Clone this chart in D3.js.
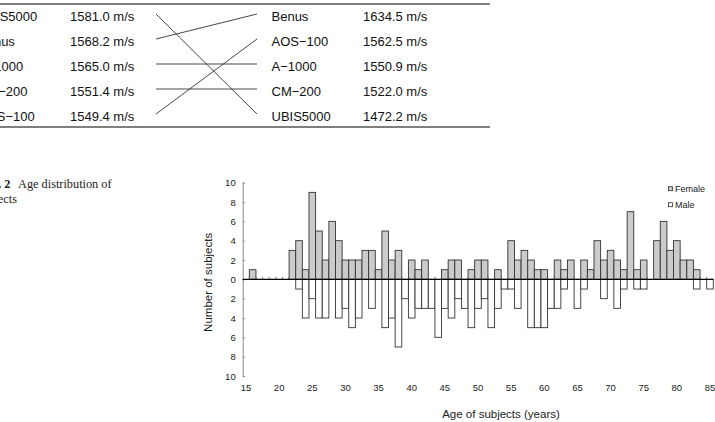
<!DOCTYPE html>
<html>
<head>
<meta charset="utf-8">
<script src="https://cdn.jsdelivr.net/npm/d3@7"></script>
<style>
body { margin: 0; background: #fff; }
svg { display: block; }
</style>
</head>
<body>
<svg id="chart" width="715" height="422"></svg>
<script>
/*
Data
*/
// table above the figure (sound speed per phantom, two measurements)
const leftNames = ["UBIS5000", "Benus", "A\u22121000", "CM\u2212200", "AOS\u2212100"];
const leftSpeeds = [1581.0, 1568.2, 1565.0, 1551.4, 1549.4];
const rightNames = ["Benus", "AOS\u2212100", "A\u22121000", "CM\u2212200", "UBIS5000"];
const rightSpeeds = [1634.5, 1562.5, 1550.9, 1522.0, 1472.2];

// age distribution, 15..85 years
const ageFrom = 15, ageTo = 85;
const female = [
    0, 1, 0, 0, 0, 0, 0, 3, 4, 1,
    9, 5, 2, 6, 4, 2, 2, 2, 3, 3,
    1, 5, 2, 3, 0, 2, 1, 2, 0, 0,
    1, 2, 2, 0, 1, 2, 2, 0, 1, 0,
    4, 2, 3, 2, 1, 1, 0, 2, 1, 2,
    0, 2, 1, 4, 2, 3, 2, 1, 7, 1,
    2, 0, 4, 6, 3, 4, 2, 2, 1, 0,
    0];
const male = [
    0, 0, 0, 0, 0, 0, 0, 0, 1, 4,
    2, 4, 4, 0, 4, 3, 5, 4, 0, 3,
    0, 5, 4, 7, 2, 4, 3, 3, 3, 6,
    3, 4, 2, 3, 5, 3, 2, 5, 3, 1,
    1, 3, 0, 5, 5, 5, 3, 3, 1, 0,
    3, 1, 0, 0, 2, 0, 3, 1, 0, 1,
    1, 0, 0, 0, 0, 0, 0, 0, 1, 0,
    1];
const yTicks = [-10, -8, -6, -4, -2, 0, 2, 4, 6, 8, 10];
const xTickLabels = [15, 20, 25, 30, 35, 40, 45, 50, 55, 60, 65, 70, 75, 80, 85];
const legendItems = ["Female", "Male"];

const ages = d3.range(ageFrom, ageTo + 1);

/*
SVG
*/
const svg = d3.select("#chart");
const sans = "'Liberation Sans', Arial, sans-serif";
const serif = "'Liberation Serif', 'Times New Roman', serif";
const femaleFill = "#cbcbcb";
const barStroke = "#333";

/*
Table
*/
function draw_table() {
    const g = svg.append("g").attr("class", "table");
    const row = d3.scalePoint().domain(d3.range(5)).range([16, 116]);

    g.append("line").attr("x1", 0).attr("x2", 490).attr("y1", 4).attr("y2", 4)
        .attr("stroke", "#555").attr("stroke-width", 1.3);
    g.append("line").attr("x1", 0).attr("x2", 490).attr("y1", 127).attr("y2", 127)
        .attr("stroke", "#555").attr("stroke-width", 1.3);

    const txt = (x, arr, fmt) => {
        g.append("g").selectAll("text").data(arr).enter()
            .append("text")
            .attr("x", x)
            .attr("y", (d, i) => row(i) + 4.7)
            .attr("font-family", sans)
            .attr("font-size", 13)
            .attr("fill", "#111")
            .text(fmt);
    };
    txt(-22, leftNames, d => d);
    txt(70, leftSpeeds, d => `${d.toFixed(1)} m/s`);
    txt(271.5, rightNames, d => d);
    txt(363, rightSpeeds, d => `${d.toFixed(1)} m/s`);

    // connect same phantom in both rankings
    g.append("g").selectAll("line").data(leftNames).enter()
        .append("line")
        .attr("x1", 156)
        .attr("x2", 257)
        .attr("y1", (d, i) => row(i) - 2)
        .attr("y2", d => row(rightNames.indexOf(d)) - 2)
        .attr("stroke", "#333")
        .attr("stroke-width", 0.9);
}

/*
Caption
*/
function draw_caption() {
    const g = svg.append("g").attr("font-family", serif).attr("font-size", 12.3).attr("fill", "#222");
    g.append("text").attr("x", 10.5).attr("y", 187.5).attr("text-anchor", "end")
        .attr("font-weight", "bold").text("Fig. 2");
    g.append("text").attr("x", 18).attr("y", 187.5).text("Age distribution of");
    g.append("text").attr("x", 17).attr("y", 203).attr("text-anchor", "end").text("subjects");
}

/*
Chart
*/
function draw_chart() {
    const x = d3.scaleBand().domain(ages).range([242.7, 713.3]).padding(0);
    const y = d3.scaleLinear().domain([-10, 10]).range([376, 182.7]);
    const g = svg.append("g").attr("class", "chart");

    // y axis
    const yAxis = d3.axisLeft(y).tickValues(yTicks).tickSize(-2).tickPadding(7)
        .tickFormat(d => Math.abs(d));
    const ga = g.append("g").attr("transform", `translate(${x.range()[0]},0)`).call(yAxis);
    ga.select(".domain").attr("stroke", "#888");
    ga.selectAll(".tick line").attr("stroke", "#888");
    ga.selectAll(".tick text").attr("font-family", sans).attr("font-size", 9.5).attr("fill", "#222");

    // boundary ticks on the zero line
    g.append("g").selectAll("line").data(ages.slice(1)).enter()
        .append("line")
        .attr("x1", d => x(d)).attr("x2", d => x(d))
        .attr("y1", y(0) - 2.5).attr("y2", y(0))
        .attr("stroke", "#555").attr("stroke-width", 0.8);

    // female bars (up)
    g.append("g").selectAll("rect").data(ages.map((a, i) => ({ age: a, v: female[i] })).filter(d => d.v > 0))
        .enter().append("rect")
        .attr("x", d => x(d.age))
        .attr("width", x.bandwidth())
        .attr("y", d => y(d.v))
        .attr("height", d => y(0) - y(d.v))
        .attr("fill", femaleFill)
        .attr("stroke", barStroke)
        .attr("stroke-width", 0.9);

    // male bars (down)
    g.append("g").selectAll("rect").data(ages.map((a, i) => ({ age: a, v: male[i] })).filter(d => d.v > 0))
        .enter().append("rect")
        .attr("x", d => x(d.age))
        .attr("width", x.bandwidth())
        .attr("y", y(0))
        .attr("height", d => y(-d.v) - y(0))
        .attr("fill", "#fff")
        .attr("stroke", barStroke)
        .attr("stroke-width", 0.9);

    // zero line
    g.append("line")
        .attr("x1", x.range()[0]).attr("x2", x.range()[1])
        .attr("y1", y(0)).attr("y2", y(0))
        .attr("stroke", "#000").attr("stroke-width", 1.1);

    // x labels
    g.append("g").selectAll("text").data(xTickLabels).enter()
        .append("text")
        .attr("x", d => x(d) + x.bandwidth() / 2)
        .attr("y", 390.5)
        .attr("text-anchor", "middle")
        .attr("font-family", sans).attr("font-size", 9.5).attr("fill", "#222")
        .text(d => d);

    // axis titles
    g.append("text")
        .attr("x", 501).attr("y", 418)
        .attr("text-anchor", "middle")
        .attr("font-family", sans).attr("font-size", 11.5).attr("fill", "#222")
        .text("Age of subjects (years)");
    g.append("text")
        .attr("transform", `translate(212,${y(0) + 3}) rotate(-90)`)
        .attr("text-anchor", "middle")
        .attr("font-family", sans).attr("font-size", 11.5).attr("fill", "#222")
        .text("Number of subjects");

    // legend
    const lg = g.append("g").selectAll("g").data(legendItems).enter()
        .append("g")
        .attr("transform", (d, i) => `translate(668.5,${188.7 + i * 16})`);
    lg.append("rect")
        .attr("x", 0).attr("y", -2).attr("width", 4).attr("height", 4)
        .attr("fill", (d, i) => i == 0 ? femaleFill : "#fff")
        .attr("stroke", barStroke).attr("stroke-width", 0.8);
    lg.append("text")
        .attr("x", 6.5).attr("y", 3.2)
        .attr("font-family", sans).attr("font-size", 9).attr("fill", "#222")
        .text(d => d);
}

draw_table();
draw_caption();
draw_chart();
</script>
</body>
</html>
